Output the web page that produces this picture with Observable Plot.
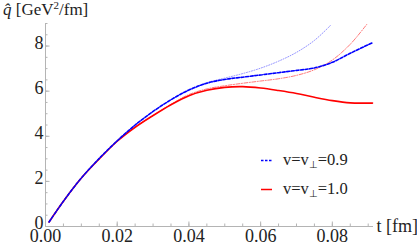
<!DOCTYPE html>
<html><head><meta charset="utf-8">
<script src="https://cdn.jsdelivr.net/npm/d3@7"></script>
<script src="https://cdn.jsdelivr.net/npm/@observablehq/plot@0.6"></script>
<style>
body{margin:0;background:#fff;color:#222;}
#wrap{position:relative;width:417px;height:246px;overflow:hidden;font-family:'Liberation Serif';}
#title{position:absolute;left:3px;top:1px;font:17px 'Liberation Serif';line-height:18px;white-space:nowrap;}
#title sup{font-size:11px;vertical-align:6px;line-height:0;}
.leg{position:absolute;font:16.5px 'Liberation Serif';line-height:18px;white-space:nowrap;}
.leg sub{font-size:10px;vertical-align:-3px;line-height:0;}
.leg svg{position:absolute;left:-22px;top:0;}
</style></head>
<body><div id="wrap"></div>
<script>
// time grid (fm)
const tMain = [0.001, 0.005, 0.01, 0.015, 0.02, 0.025, 0.03, 0.035, 0.04, 0.045, 0.05, 0.055, 0.06, 0.065, 0.07, 0.075, 0.08, 0.085, 0.09, 0.0912];
// v = v_perp = 0.9 (blue dashed)
const qBlueDashed = [0.2, 1.12, 2.15, 3.02, 3.8, 4.5, 5.1, 5.62, 6.05, 6.35, 6.52, 6.62, 6.72, 6.82, 6.92, 7.03, 7.28, 7.68, 8.06, 8.15];
// v = v_perp = 1.0 (red solid)
const qRedSolid = [0.2, 1.12, 2.15, 3.0, 3.78, 4.4, 4.92, 5.4, 5.8, 6.04, 6.17, 6.2, 6.14, 6.03, 5.9, 5.73, 5.58, 5.48, 5.47, 5.47];
// thin companion curves
const tDotted = [0.001, 0.005, 0.01, 0.015, 0.02, 0.025, 0.03, 0.035, 0.04, 0.045, 0.05, 0.055, 0.06, 0.065, 0.07, 0.075, 0.0797];
const qBlueDotted = [0.2, 1.12, 2.15, 3.02, 3.8, 4.5, 5.1, 5.62, 6.07, 6.38, 6.58, 6.78, 7.02, 7.33, 7.72, 8.25, 8.95];
const tDashDot = [0.001, 0.005, 0.01, 0.015, 0.02, 0.025, 0.03, 0.035, 0.04, 0.045, 0.05, 0.055, 0.06, 0.065, 0.07, 0.075, 0.08, 0.085, 0.0896];
const qRedDashDot = [0.2, 1.12, 2.15, 3.0, 3.78, 4.4, 4.92, 5.42, 5.85, 6.1, 6.24, 6.35, 6.45, 6.55, 6.7, 6.95, 7.38, 8.08, 8.96];

const xMajor = [0, 0.02, 0.04, 0.06, 0.08];
const xMinor = d3.range(0, 0.0905, 0.005);
const yMajor = [0, 2, 4, 6, 8];
const yMinor = d3.range(0, 9.01, 0.5);

const rows = (ts, qs) => ts.map((t, i) => ({t, q: qs[i]}));

const axisCol = "#b4b4b4";
const serif = "Liberation Serif";
const chart = Plot.plot({
  width: 417, height: 246,
  marginTop: 23, marginLeft: 45, marginRight: 45, marginBottom: 20,
  x: {domain: [0, 0.0912]},
  y: {domain: [0, 9]},
  style: {fontFamily: "'Liberation Serif'", fontSize: "18px", color: "#222", background: "transparent"},
  marks: [
    Plot.frame({anchor: "bottom", stroke: axisCol}),
    Plot.frame({anchor: "left", stroke: axisCol}),
    Plot.axisX(xMinor, {tickSize: -2.5, stroke: axisCol, fill: "none", label: null}),
    Plot.axisX(xMajor, {tickSize: -4.5, stroke: axisCol, fill: "none", label: null}),
    Plot.axisX(xMajor, {tickSize: 0, tickPadding: 3, tickFormat: d => d.toFixed(2), fill: "#222", fontFamily: serif, fontSize: 18, label: null}),
    Plot.axisY(yMinor, {tickSize: -2.5, stroke: axisCol, fill: "none", label: null}),
    Plot.axisY(yMajor, {tickSize: -4.5, stroke: axisCol, fill: "none", label: null}),
    Plot.axisY(yMajor, {tickSize: 0, tickPadding: 2, dy: -3, tickFormat: d => String(d), fill: "#222", fontFamily: serif, fontSize: 18, label: null}),
    Plot.text(["t [fm]"], {frameAnchor: "bottom-right", dx: 4, textAnchor: "start", lineAnchor: "middle", fontFamily: serif, fontSize: 18, fill: "#222"}),
    Plot.line(rows(tDotted, qBlueDotted), {x: "t", y: "q", stroke: "#5a5aff", strokeWidth: 1, strokeDasharray: "1,1.6", strokeOpacity: 0.65, curve: "catmull-rom"}),
    Plot.line(rows(tDashDot, qRedDashDot), {x: "t", y: "q", stroke: "#ff3030", strokeWidth: 1, strokeDasharray: "4,1.5,1,1.5", strokeOpacity: 0.65, curve: "catmull-rom"}),
    Plot.line(rows(tMain, qRedSolid), {x: "t", y: "q", stroke: "#ff0000", strokeWidth: 1.6, curve: "catmull-rom"}),
    Plot.line(rows(tMain, qBlueDashed), {x: "t", y: "q", stroke: "#0000ff", strokeWidth: 1.6, strokeDasharray: "3,1.6", curve: "catmull-rom"})
  ]
});
const wrap = document.getElementById("wrap");
wrap.appendChild(chart);
const title = document.createElement("div");
title.id = "title";
title.innerHTML = '<i>q\u0302</i> [GeV<sup>2</sup>/fm]';
wrap.appendChild(title);
const legendItems = [
  {label: 'v=v<sub>\u22a5</sub>=0.9', color: "#0000ff", dash: "2.5,1.5", top: 151},
  {label: 'v=v<sub>\u22a5</sub>=1.0', color: "#ff0000", dash: null, top: 180}
];
for (const it of legendItems) {
  const d = document.createElement("div");
  d.className = "leg";
  d.style.left = "283px";
  d.style.top = it.top + "px";
  d.innerHTML = `<svg width="12" height="18"><line x1="0" x2="11" y1="9.5" y2="9.5" stroke="${it.color}" stroke-width="1.5" ${it.dash ? `stroke-dasharray="${it.dash}"` : ""}/></svg>` + it.label;
  wrap.appendChild(d);
}
</script></body></html>
